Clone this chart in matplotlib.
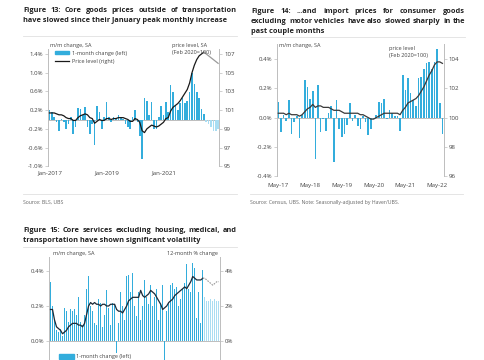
import matplotlib
matplotlib.use('Agg')
import matplotlib.pyplot as plt
import numpy as np
from matplotlib.patches import Patch
from matplotlib.lines import Line2D

plt.rcParams['font.family'] = ['Open Sans', 'DejaVu Sans']

# ---------------- data ----------------
# Figure 13: core goods ex transportation, Jan-2017 .. Dec-2022 (last 6 = forecast)
f13_mm = [0.20, 0.15, 0.05, -0.05, -0.25, 0.02, -0.05, -0.20, -0.10, 0.05, -0.30, -0.15,
          0.25, 0.22, 0.10, 0.27, -0.15, -0.30, -0.10, -0.55, 0.28, 0.15, -0.20, 0.05,
          0.38, 0.05, -0.05, 0.05, 0.03, 0.10, 0.05, 0.01, -0.10, -0.15, -0.20, 0.05,
          0.20, -0.05, -0.35, -0.85, 0.45, 0.40, 0.10, 0.38, -0.20, -0.20, 0.05, 0.28,
          0.10, 0.38, 0.15, 0.73, 0.58, 0.30, 0.20, 0.35, 0.45, 0.35, 0.40, 0.58,
          1.00, 0.75, 0.58, 0.45, 0.22, 0.12, -0.05, -0.10, -0.15, -0.25, -0.25, -0.20]
f13_level = [100.7, 100.7, 100.7, 100.6, 100.5, 100.5, 100.4, 100.2, 100.1, 100.1, 99.9, 99.9,
             100.2, 100.4, 100.5, 100.6, 100.5, 100.2, 100.1, 99.6, 99.8, 100.0, 99.9, 99.9,
             100.1, 100.1, 100.0, 100.1, 100.1, 100.2, 100.2, 100.2, 100.1, 100.0, 99.8, 99.8,
             100.1, 100.0, 99.7, 98.8, 98.6, 99.0, 99.2, 99.4, 99.3, 99.2, 99.3, 99.5,
             99.7, 100.1, 100.2, 100.9, 101.3, 101.5, 101.7, 102.0, 102.4, 102.8, 103.2, 103.9,
             105.0, 105.8, 106.4, 106.8, 107.0, 107.2]
f13_level_fc = [107.2, 107.0, 106.8, 106.6, 106.4, 106.2, 106.0]
f13_n_actual = 66
f13_xticks = [0, 24, 48]
f13_xlabels = ['Jan-2017', 'Jan-2019', 'Jan-2021']

# Figure 14: import prices consumer goods ex motor vehicles, May-17 .. Jul-22
f14_mm = [0.11, -0.10, 0.02, -0.02, 0.12, -0.11, -0.03, 0.01, -0.14, 0.02, 0.26, 0.21,
          0.13, 0.18, -0.28, 0.22, -0.10, -0.01, -0.09, 0.03, 0.08, -0.30, 0.12, -0.08,
          -0.13, -0.11, -0.05, 0.10, -0.02, 0.02, -0.06, -0.08, 0.01, -0.03, -0.12, -0.08,
          -0.01, 0.02, 0.11, 0.10, 0.13, -0.01, 0.05, 0.03, 0.01, 0.01, -0.09, 0.29,
          0.19, 0.27, 0.17, 0.12, 0.08, 0.27, 0.28, 0.33, 0.37, 0.38, 0.33, 0.38,
          0.47, 0.10, -0.11]
f14_level = [100.3, 100.3, 100.3, 100.2, 100.3, 100.2, 100.2, 100.2, 100.1, 100.2, 100.4, 100.6,
             100.7, 100.9, 100.7, 100.8, 100.8, 100.7, 100.7, 100.7, 100.6, 100.5, 100.5, 100.5,
             100.4, 100.3, 100.3, 100.3, 100.3, 100.3, 100.3, 100.2, 100.2, 100.1, 100.0, 99.9,
             99.9, 100.0, 100.1, 100.2, 100.3, 100.3, 100.3, 100.3, 100.3, 100.3, 100.2, 100.5,
             100.7, 101.0, 101.1, 101.2, 101.3, 101.5, 101.8, 102.1, 102.5, 102.9, 103.2, 103.6,
             103.8, 103.8, 103.7]
f14_xticks = [0, 12, 24, 36, 48, 60]
f14_xlabels = ['May-17', 'May-18', 'May-19', 'May-20', 'May-21', 'May-22']

# Figure 15: core services ex housing, medical, transportation (last 8 = forecast)
f15_mm = [0.34, 0.20, 0.12, 0.06, 0.05, 0.07, 0.03, 0.19, 0.17, 0.11, 0.18, 0.17,
          0.18, 0.15, 0.25, 0.11, 0.09, 0.15, 0.30, 0.37, 0.20, 0.17, 0.10, 0.09,
          0.24, 0.22, 0.08, 0.15, 0.29, 0.19, 0.09, 0.22, 0.21, -0.35, 0.10, 0.28,
          0.20, 0.12, 0.37, 0.38, 0.28, 0.39, 0.20, 0.14, 0.28, 0.12, 0.20, 0.35,
          0.25, 0.21, 0.32, 0.20, 0.25, 0.30, 0.12, 0.22, 0.32, -0.50, 0.17, 0.22,
          0.32, 0.33, 0.30, 0.31, 0.20, 0.24, 0.30, 0.33, 0.44, 0.30, 0.28, 0.45,
          0.42, 0.13, 0.28, 0.10, 0.41,
          0.25, 0.23, 0.23, 0.24, 0.23, 0.24, 0.23, 0.23]
f15_yoy = [1.8, 1.8, 1.2, 0.8, 0.7, 0.6, 0.4, 0.5, 0.6, 0.8, 0.9, 1.0,
           1.0, 1.0, 0.9, 0.9, 0.8, 1.0, 1.5, 2.0, 2.2, 2.1, 2.2, 2.1,
           2.1, 2.0, 2.1, 2.1, 2.0, 2.0, 2.1, 2.1, 2.1, 1.8, 1.7, 1.7,
           1.6, 1.8, 2.0, 2.3, 2.4, 2.5, 2.5, 2.5, 2.5, 2.9, 2.6, 2.5,
           2.6, 2.7, 2.9, 2.8, 2.7, 2.5, 2.3, 2.1, 1.8, 1.9, 2.0, 2.2,
           2.3, 2.4, 2.6, 2.7, 2.8, 2.9, 3.0, 3.1, 3.0, 3.2, 3.4, 3.7,
           3.6, 3.5, 3.5, 3.5, 3.6]
f15_yoy_fc = [3.6, 3.6, 3.5, 3.4, 3.3, 3.2, 3.3, 3.4, 3.4]
f15_n_actual = 77

# ---------------- styling ----------------
W, H = 485, 360
BAR = '#33ADDC'
BAR_FC = '#A9DDF2'
GRID = '#BDBDBD'
TXT = '#444444'
fig = plt.figure(figsize=(4.85, 3.6), dpi=100)
renderer = fig.canvas.get_renderer()


def fy(y):
    return 1 - y / H


def px_axes(x0, y0, x1, y1):
    return fig.add_axes([x0 / W, 1 - y1 / H, (x1 - x0) / W, (y1 - y0) / H])


def title_block(lines, x0, x1, ys, size=5.3):
    for i, (line, y) in enumerate(zip(lines, ys)):
        if i == len(lines) - 1:
            fig.text(x0 / W, fy(y), line, fontsize=size, fontweight='bold',
                     color='#222222', va='center', ha='left')
            continue
        words = line.split()
        ts = [fig.text(0, fy(y), w, fontsize=size, fontweight='bold',
                       color='#222222', va='center', ha='left') for w in words]
        widths = [t.get_window_extent(renderer).width for t in ts]
        gap = (x1 - x0 - sum(widths)) / (len(words) - 1)
        x = x0
        for t, wd in zip(ts, widths):
            t.set_x(x / W)
            x += wd + gap


def hline(x0, x1, y):
    fig.add_artist(Line2D([x0 / W, x1 / W], [fy(y), fy(y)], color='#E0E0E0', lw=0.6,
                          transform=fig.transFigure))


def style_axes(ax, axr):
    for s in ['top', 'bottom', 'right']:
        ax.spines[s].set_visible(False)
    for s in ['top', 'bottom', 'left']:
        axr.spines[s].set_visible(False)
    ax.spines['left'].set_color(GRID)
    axr.spines['right'].set_color(GRID)
    ax.spines['left'].set_linewidth(0.7)
    axr.spines['right'].set_linewidth(0.7)
    ax.tick_params(axis='y', labelsize=4.4, colors=TXT, length=2, width=0.5, pad=1.5)
    axr.tick_params(axis='y', labelsize=4.4, colors=TXT, length=2, width=0.5, pad=1.5)
    for a in (ax, axr):
        a.tick_params(axis='y', color=GRID)
    ax.tick_params(axis='x', labelsize=4.4, colors=TXT, length=0, pad=3)
    ax.axhline(0, color=GRID, lw=0.7, zorder=1)
    ax.patch.set_alpha(0)


# ================= Figure 13 =================
title_block(['Figure 13: Core goods prices outside of transportation',
             'have slowed since their January peak monthly increase'],
            23, 237, [10.3, 20.8])
hline(23, 237, 36)
hline(23, 237, 194)
fig.text(23 / W, fy(202.7), 'Source: BLS, UBS', fontsize=3.7, color='#666666', va='center')

ax1 = px_axes(48.3, 49.3, 219.3, 166.3)
ax1r = ax1.twinx()
x1 = np.arange(len(f13_mm))
cols1 = [BAR if i < f13_n_actual else BAR_FC for i in x1]
ax1.bar(x1, f13_mm, width=0.68, color=cols1, zorder=2)
ax1.set_ylim(-1.0, 1.5)
ax1.set_yticks([-1.0, -0.6, -0.2, 0.2, 0.6, 1.0, 1.4])
ax1.set_yticklabels(['-1.0%', '-0.6%', '-0.2%', '0.2%', '0.6%', '1.0%', '1.4%'])
ax1.set_xlim(-0.5, len(f13_mm) - 0.5)
ax1.set_xticks(f13_xticks)
ax1.set_xticklabels(f13_xlabels)
ax1r.plot(np.arange(len(f13_level)), f13_level, color='#1A1A1A', lw=0.9, zorder=3)
ax1r.plot(np.arange(f13_n_actual - 1, f13_n_actual - 1 + len(f13_level_fc)), f13_level_fc,
          color='#9A9A9A', lw=0.9, zorder=3)
ax1r.set_ylim(95, 107.5)
ax1r.set_yticks([95, 97, 99, 101, 103, 105, 107])
style_axes(ax1, ax1r)
fig.text(50 / W, fy(45), 'm/m change, SA', fontsize=4.0, color=TXT, va='center')
fig.text(172 / W, fy(45), 'price level, SA', fontsize=4.0, color=TXT, va='center')
fig.text(172 / W, fy(52.7), '(Feb 2020=100)', fontsize=4.0, color=TXT, va='center')
ax1r.legend(handles=[Patch(color=BAR, label='1-month change (left)'),
                     Line2D([], [], color='#1A1A1A', lw=0.9, label='Price level (right)')],
            loc='upper left', bbox_to_anchor=(55 / W, fy(50.5)), bbox_transform=fig.transFigure,
            frameon=False, fontsize=4.0, handlelength=2.6, handleheight=0.5,
            handletextpad=0.4, labelspacing=0.55, borderpad=0, borderaxespad=0,
            labelcolor=TXT)

# ================= Figure 14 =================
title_block(['Figure 14: ...and import prices for consumer goods',
             'excluding motor vehicles have also slowed sharply in the',
             'past couple months'],
            251, 465, [11.7, 21.5, 31.2])
hline(251, 465, 36.5)
hline(250, 463, 194)
fig.text(250 / W, fy(202.7), 'Source: Census, UBS. Note: Seasonally-adjusted by Haver/UBS.',
         fontsize=3.7, color='#666666', va='center')

ax2 = px_axes(276.7, 44.3, 444, 176.3)
ax2r = ax2.twinx()
x2 = np.arange(len(f14_mm))
ax2.bar(x2, f14_mm, width=0.62, color=BAR, zorder=2)
ax2.set_ylim(-0.4, 0.5)
ax2.set_yticks([-0.4, -0.2, 0.0, 0.2, 0.4])
ax2.set_yticklabels(['-0.4%', '-0.2%', '0.0%', '0.2%', '0.4%'])
ax2.set_xlim(-0.6, len(f14_mm) - 0.4)
ax2.set_xticks(f14_xticks)
ax2.set_xticklabels(f14_xlabels)
ax2r.plot(np.arange(len(f14_level)), f14_level, color='#3A3A3A', lw=0.9, zorder=3)
ax2r.set_ylim(96, 105)
ax2r.set_yticks([96, 98, 100, 102, 104])
style_axes(ax2, ax2r)
ax2.tick_params(axis='x', pad=4.5)
fig.text(279 / W, fy(45), 'm/m change, SA', fontsize=4.0, color=TXT, va='center')
fig.text(389 / W, fy(48.5), 'price level', fontsize=4.0, color=TXT, va='center')
fig.text(389 / W, fy(55.8), '(Feb 2020=100)', fontsize=4.0, color=TXT, va='center')

# ================= Figure 15 =================
title_block(['Figure 15: Core services excluding housing, medical, and',
             'transportation have shown significant volatility'],
            23, 237, [230.5, 240.5])
hline(23, 237, 246.5)

ax3 = px_axes(49.3, 257.4, 220, 392.8)
ax3r = ax3.twinx()
x3 = np.arange(len(f15_mm))
cols3 = [BAR if i < f15_n_actual else BAR_FC for i in x3]
ax3.bar(x3, f15_mm, width=0.7, color=cols3, zorder=2)
ax3.set_ylim(-0.3, 0.48)
ax3.set_yticks([0.0, 0.2, 0.4])
ax3.set_yticklabels(['0.0%', '0.2%', '0.4%'])
ax3.set_xlim(-0.6, len(f15_mm) - 0.4)
ax3.set_xticks([])
ax3r.plot(np.arange(len(f15_yoy)), f15_yoy, color='#1C2A38', lw=0.9, zorder=3)
ax3r.plot(np.arange(f15_n_actual - 1, f15_n_actual - 1 + len(f15_yoy_fc)), f15_yoy_fc,
          color='#9A9A9A', lw=0.8, ls=(0, (1.5, 1)), zorder=3)
ax3r.set_ylim(-3, 4.8)
ax3r.set_yticks([0, 2, 4])
ax3r.set_yticklabels(['0%', '2%', '4%'])
style_axes(ax3, ax3r)
fig.text(53 / W, fy(254), 'm/m change, SA', fontsize=4.0, color=TXT, va='center')
fig.text(218 / W, fy(254), '12-month % change', fontsize=4.0, color=TXT, va='center', ha='right')
ax3r.legend(handles=[Patch(color=BAR, label='1-month change (left)')],
            loc='upper left', bbox_to_anchor=(58 / W, fy(353)), bbox_transform=fig.transFigure,
            frameon=True, facecolor='white', edgecolor='none', framealpha=1,
            fontsize=4.0, handlelength=2.6, handleheight=0.9,
            handletextpad=0.4, borderpad=0.2, borderaxespad=0, labelcolor=TXT)

fig.savefig('out.png', dpi=100)
